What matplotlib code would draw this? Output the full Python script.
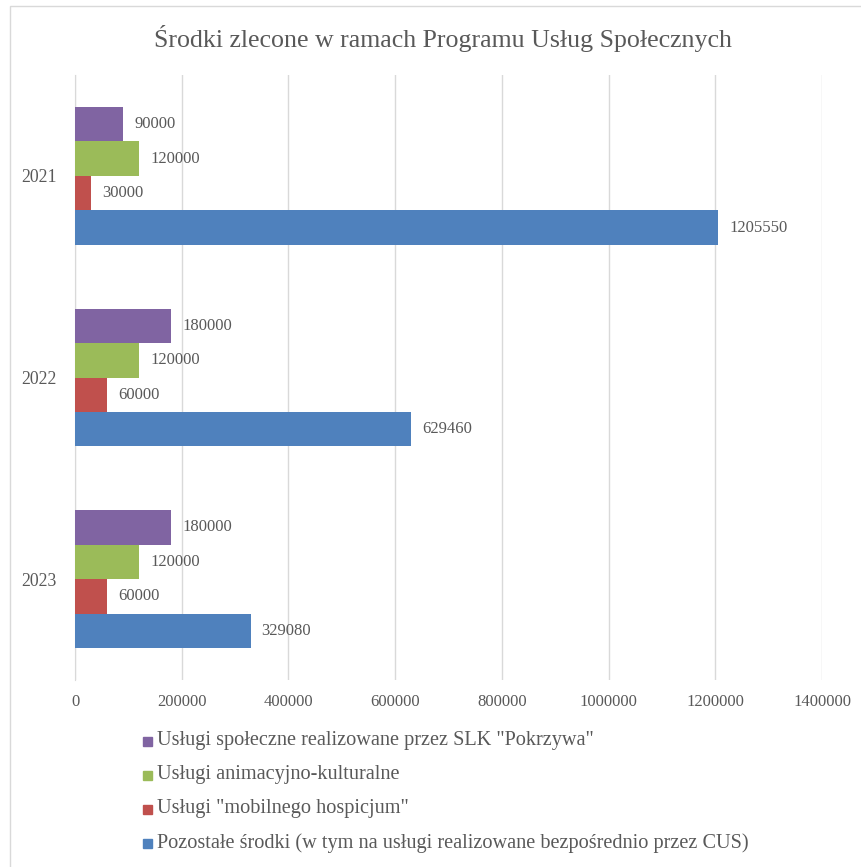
import matplotlib
matplotlib.use('Agg')
from matplotlib import pyplot as plt
from matplotlib.patches import Rectangle
import numpy as np

plt.rcParams['font.family'] = ['Liberation Serif', 'DejaVu Serif']

years = ['2021', '2022', '2023']
series_names = [
    'Usługi społeczne realizowane przez SLK "Pokrzywa"',
    'Usługi animacyjno-kulturalne',
    'Usługi "mobilnego hospicjum"',
    'Pozostałe środki (w tym na usługi realizowane bezpośrednio przez CUS)',
]
pokrzywa = [90000, 180000, 180000]
animacja = [120000, 120000, 120000]
hospicjum = [30000, 60000, 60000]
pozostale = [1205550, 629460, 329080]
colors = ['#8064A2', '#9BBB59', '#C0504D', '#4F81BD']
x_ticks = [0, 200000, 400000, 600000, 800000, 1000000, 1200000, 1400000]

text_color = '#595959'
grid_color = '#D9D9D9'

W, H = 862, 867
fig = plt.figure(figsize=(W / 100, H / 100), dpi=100)
ax = fig.add_axes([75 / W, 1 - 680 / H, (822 - 75) / W, (680 - 75) / H])

bar_h = 0.171
pos = np.arange(len(years))
all_series = [pokrzywa, animacja, hospicjum, pozostale]
for i, (vals, col) in enumerate(zip(all_series, colors)):
    offs = (i - 1.5) * bar_h
    bars = ax.barh(pos + offs, vals, height=bar_h, color=col, zorder=3)
    for b, v in zip(bars, vals):
        ax.annotate(str(v), (b.get_width(), b.get_y() + b.get_height() / 2),
                    xytext=(11, 0), textcoords='offset pixels',
                    va='center', ha='left', fontsize=12, color=text_color)

ax.set_xlim(0, 1400000)
ax.set_ylim(2.5, -0.5)
ax.set_yticks(pos)
ax.set_yticklabels(years)
ax.set_xticks(x_ticks)
ax.set_xticklabels([str(t) for t in x_ticks])
ax.tick_params(axis='both', length=0, colors=text_color, labelsize=12)
ax.tick_params(axis='y', pad=13, labelsize=12.8)
ax.tick_params(axis='x', pad=10)
ax.grid(axis='x', color=grid_color, linewidth=1, zorder=0)
for s in ['top', 'right', 'bottom']:
    ax.spines[s].set_visible(False)
ax.spines['left'].set_color(grid_color)

fig.text(443 / W, 1 - 38 / H, 'Środki zlecone w ramach Programu Usług Społecznych',
         ha='center', va='center', fontsize=18.6, color=text_color)

# legenda
leg_y = [741, 775, 809, 843]
for name, col, ly in zip(series_names, colors, leg_y):
    fig.patches.append(Rectangle((143 / W, 1 - (ly + 4.5) / H), 9 / W, 9 / H,
                                 transform=fig.transFigure, color=col))
    fig.text(157 / W, 1 - ly / H, name, ha='left', va='center',
             fontsize=14.6, color=text_color)

# ramka wykresu
fig.patches.append(Rectangle((10 / W, -0.1), 1.2, 1.1 - 6 / H, transform=fig.transFigure,
                             fill=False, edgecolor='#D9D9D9', linewidth=1))

fig.savefig('out.png', dpi=100)
